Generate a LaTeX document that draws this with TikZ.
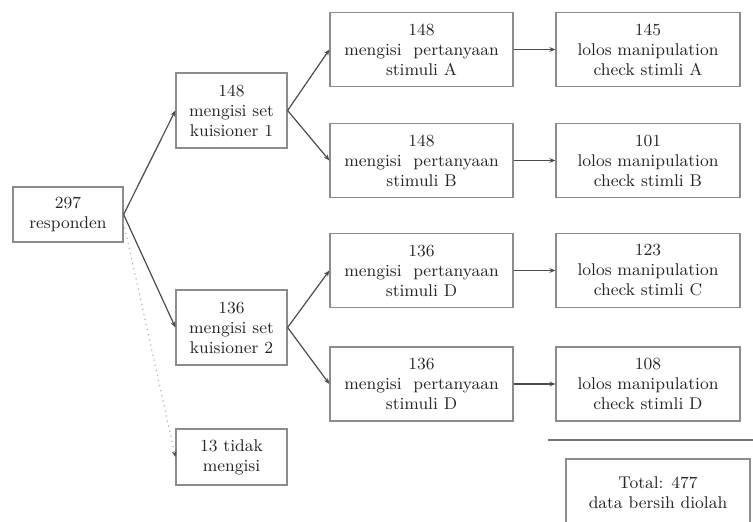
\documentclass[tikz,border=0pt]{standalone}
\usetikzlibrary{arrows.meta}

\begin{document}
\begin{tikzpicture}[x=0.5pt,y=-0.5pt,
  box/.style={draw=black!45,line width=0.6pt,text=black!85,align=center,
    font=\fontsize{8.5}{10}\selectfont,inner sep=1pt},
  small/.style={box,minimum width=55.5pt,minimum height=37.5pt},
  wide/.style={box,minimum width=91.5pt,minimum height=37pt},
  flow/.style={draw=black!70,line width=0.6pt,-{Stealth[length=3pt,width=2.4pt]}}]
  \path[use as bounding box,clip] (0,0) rectangle (753,522);

  % first column
  \node[box,minimum width=55pt,minimum height=27.5pt] (resp) at (68,214.5) {297\\responden};

  % questionnaire sets
  \node[small] (kuis1) at (231.5,110.5) {148\\mengisi set\\kuisioner 1};
  \node[small] (kuis2) at (231.5,327.5) {136\\mengisi set\\kuisioner 2};
  \node[small,minimum height=28pt] (tidak) at (231.5,457) {13 tidak\\mengisi};

  % stimuli
  \node[wide] (stA) at (421.5,49.5) {148\\mengisi\ \ pertanyaan\\stimuli A};
  \node[wide] (stB) at (421.5,160.5) {148\\mengisi\ \ pertanyaan\\stimuli B};
  \node[wide] (stC) at (421.5,270.5) {136\\mengisi\ \ pertanyaan\\stimuli D};
  \node[wide] (stD) at (421.5,384) {136\\mengisi\ \ pertanyaan\\stimuli D};

  % manipulation check
  \node[wide,minimum width=92pt] (lolA) at (648,49.5) {145\\lolos manipulation\\check stimli A};
  \node[wide,minimum width=92pt] (lolB) at (648,160.5) {101\\lolos manipulation\\check stimli B};
  \node[wide,minimum width=92pt] (lolC) at (648,270.5) {123\\lolos manipulation\\check stimli C};
  \node[wide,minimum width=92pt] (lolD) at (648,384) {108\\lolos manipulation\\check stimli D};

  \draw[black!55,line width=1pt] (548,440) -- (753,440);
  \node[box,minimum width=92pt,minimum height=34pt] (total) at (658,493) {Total: 477\\data bersih diolah};

  % connectors
  \draw[flow] (resp.east) -- (kuis1.west);
  \draw[flow] (resp.east) -- (kuis2.west);
  \draw[draw=black!30,line width=0.6pt,dotted,-{Stealth[length=3pt,width=2.4pt,color=black!70]}]
    ([yshift=-4pt]resp.east) -- (tidak.west);
  \draw[flow] (kuis1.east) -- (stA.west);
  \draw[flow] (kuis1.east) -- (stB.west);
  \draw[flow] (kuis2.east) -- (stC.west);
  \draw[flow] (kuis2.east) -- (stD.west);
  \foreach \s/\l in {stA/lolA,stB/lolB,stC/lolC,stD/lolD}
    \draw[flow] (\s.east) -- (\l.west);
\end{tikzpicture}
\end{document}
